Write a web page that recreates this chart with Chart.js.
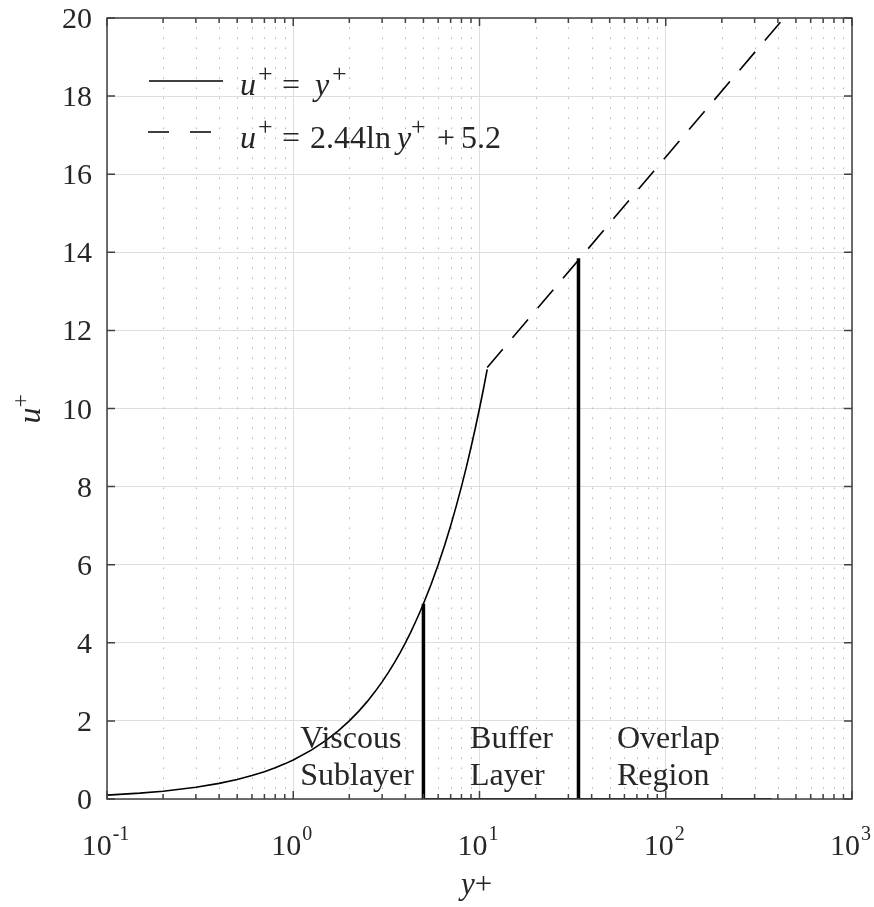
<!DOCTYPE html>
<html>
<head>
<meta charset="utf-8">
<script src="https://cdn.jsdelivr.net/npm/chart.js@4.4.1/dist/chart.umd.min.js"></script>
<style>
  html, body { margin: 0; padding: 0; background: #fff; }
</style>
</head>
<body>
<canvas id="myChart" width="874" height="907"></canvas>
<script>
// viscous sublayer, u+ = y+
var viscousX = [0.1, 0.15, 0.2, 0.3, 0.4, 0.5, 0.6, 0.7, 0.8, 0.9, 1, 1.25, 1.5, 1.75, 2, 2.25, 2.5, 2.75, 3, 3.25, 3.5, 3.75, 4, 4.25, 4.5, 4.75, 5, 5.5, 6, 6.5, 7, 7.5, 8, 8.5, 9, 9.5, 10, 10.5, 11];
var viscousU = [0.1, 0.15, 0.2, 0.3, 0.4, 0.5, 0.6, 0.7, 0.8, 0.9, 1, 1.25, 1.5, 1.75, 2, 2.25, 2.5, 2.75, 3, 3.25, 3.5, 3.75, 4, 4.25, 4.5, 4.75, 5, 5.5, 6, 6.5, 7, 7.5, 8, 8.5, 9, 9.5, 10, 10.5, 11];
// log law, u+ = 2.44 ln y+ + 5.2
var logLawX = [11, 34, 100, 431];
var logLawU = [11.05, 13.8, 16.44, 20];
// region boundaries
var bound1X = [5, 5];
var bound1U = [0, 5];
var bound2X = [34, 34];
var bound2U = [0, 13.85];
var zeroX = [5, 370];
var zeroU = [0, 0];

var xMajorTicks = [0.1, 1, 10, 100, 1000];
var xExponents = ['-1', '0', '1', '2', '3'];
var xMinorSteps = [2, 3, 4, 5, 6, 7, 8, 9];
var yTicks = [0, 2, 4, 6, 8, 10, 12, 14, 16, 18, 20];
var regionNames = [['Viscous', 'Sublayer'], ['Buffer', 'Layer'], ['Overlap', 'Region']];

var xMinorTicks = [];
for (var d = 0; d < xMajorTicks.length - 1; d++) {
  xMinorSteps.forEach(function (m) { xMinorTicks.push(xMajorTicks[d] * m); });
}
var xAllTicks = xMajorTicks.concat(xMinorTicks).sort(function (a, b) { return a - b; });

function toPoints(xs, ys) {
  return xs.map(function (x, i) { return { x: x, y: ys[i] }; });
}
function isMajor(v) {
  return xMajorTicks.some(function (m) { return Math.abs(Math.log10(v) - Math.log10(m)) < 1e-6; });
}

var SERIF = '"Liberation Serif", "Times New Roman", serif';
var TXT = '#262626';

// draws a row of text pieces: [text, x, style, sup]
function drawPieces(c, pieces, baseline, size) {
  pieces.forEach(function (p) {
    var sup = p[3];
    var fs = sup ? 26 : size;
    c.font = (p[2] === 'i' ? 'italic ' : '') + fs + 'px ' + SERIF;
    c.fillText(p[0], p[1], sup ? baseline - 13 : baseline);
  });
}

var matlabAxes = {
  id: 'matlabAxes',
  beforeDatasetsDraw: function (chart) {
    var c = chart.ctx, a = chart.chartArea, xs = chart.scales.x;
    c.save();
    c.strokeStyle = '#b4b4b4';
    c.lineWidth = 1;
    c.setLineDash([1.5, 8.5]);
    xMinorTicks.forEach(function (v) {
      var px = Math.round(xs.getPixelForValue(v)) + 0.5;
      c.beginPath();
      c.moveTo(px, a.bottom);
      c.lineTo(px, a.top);
      c.stroke();
    });
    c.restore();
  },
  afterDraw: function (chart) {
    var c = chart.ctx, a = chart.chartArea, xs = chart.scales.x, ys = chart.scales.y;
    c.save();
    // ticks pointing inward
    c.strokeStyle = '#404040';
    c.lineWidth = 1.5;
    xAllTicks.forEach(function (v) {
      var px = xs.getPixelForValue(v);
      var len = isMajor(v) ? 8 : 5;
      c.beginPath();
      c.moveTo(px, a.bottom); c.lineTo(px, a.bottom - len);
      c.moveTo(px, a.top); c.lineTo(px, a.top + len);
      c.stroke();
    });
    yTicks.forEach(function (v) {
      var py = ys.getPixelForValue(v);
      c.beginPath();
      c.moveTo(a.left, py); c.lineTo(a.left + 8, py);
      c.moveTo(a.right, py); c.lineTo(a.right - 8, py);
      c.stroke();
    });
    c.strokeRect(a.left, a.top, a.right - a.left, a.bottom - a.top);

    // tick labels
    c.fillStyle = TXT;
    c.textBaseline = 'alphabetic';
    c.textAlign = 'right';
    c.font = '30px ' + SERIF;
    yTicks.forEach(function (v) {
      c.fillText(String(v), a.left - 15, ys.getPixelForValue(v) + 10);
    });
    c.textAlign = 'left';
    xMajorTicks.forEach(function (v, i) {
      var px = xs.getPixelForValue(v);
      c.font = '30px ' + SERIF;
      var wb = c.measureText('10').width;
      c.font = '20px ' + SERIF;
      var we = c.measureText(xExponents[i]).width;
      var x0 = px - (wb + we) / 2 - 2;
      c.font = '30px ' + SERIF;
      c.fillText('10', x0, a.bottom + 56);
      c.font = '20px ' + SERIF;
      c.fillText(xExponents[i], x0 + wb + 1, a.bottom + 41);
    });

    // axis titles
    c.font = 'italic 31px ' + SERIF;
    var wy = c.measureText('y').width;
    c.font = '31px ' + SERIF;
    var wp = c.measureText('+').width;
    var tx = (a.left + a.right) / 2 - 3 - (wy + wp) / 2;
    c.font = 'italic 31px ' + SERIF;
    c.fillText('y', tx, a.bottom + 95);
    c.font = '31px ' + SERIF;
    c.fillText('+', tx + wy, a.bottom + 95);

    c.save();
    c.translate(40, (a.top + a.bottom) / 2 + 15);
    c.rotate(-Math.PI / 2);
    c.font = 'italic 32px ' + SERIF;
    c.fillText('u', 0, 0);
    var wu = c.measureText('u').width;
    c.font = '24px ' + SERIF;
    c.fillText('+', wu, -12);
    c.restore();

    // legend
    c.strokeStyle = '#000';
    c.lineWidth = 1.5;
    c.beginPath();
    c.moveTo(149, 81); c.lineTo(223, 81);
    c.stroke();
    c.setLineDash([21, 21]);
    c.beginPath();
    c.moveTo(148, 132); c.lineTo(213, 132);
    c.stroke();
    c.setLineDash([]);
    c.fillStyle = TXT;
    drawPieces(c, [['u', 240, 'i'], ['+', 258, '', true], ['=', 282, ''], ['y', 315, 'i'], ['+', 332, '', true]], 95, 32);
    drawPieces(c, [['u', 240, 'i'], ['+', 258, '', true], ['=', 282, ''], ['2.44ln', 310, ''], ['y', 397, 'i'], ['+', 411, '', true], ['+', 437, ''], ['5.2', 461, '']], 148, 32);

    // region labels
    c.font = '32px ' + SERIF;
    var regionX = [1.09, 8.9, 54.7];
    regionNames.forEach(function (lines, i) {
      var px = xs.getPixelForValue(regionX[i]);
      c.fillText(lines[0], px, a.bottom - 51);
      c.fillText(lines[1], px, a.bottom - 14);
    });
    c.restore();
  }
};

var ctx = document.getElementById('myChart').getContext('2d');
var chart = new Chart(ctx, {
  type: 'scatter',
  data: {
    datasets: [{
      label: 'u+ = y+',
      data: toPoints(viscousX, viscousU),
      showLine: true, borderColor: '#000', borderWidth: 1.6, pointRadius: 0
    }, {
      label: 'u+ = 2.44ln y+ + 5.2',
      data: toPoints(logLawX, logLawU),
      showLine: true, borderColor: '#000', borderWidth: 1.6, borderDash: [24, 15], pointRadius: 0
    }, {
      label: 'sublayer edge',
      data: toPoints(bound1X, bound1U),
      showLine: true, borderColor: '#000', borderWidth: 3.5, pointRadius: 0
    }, {
      label: 'buffer edge',
      data: toPoints(bound2X, bound2U),
      showLine: true, borderColor: '#000', borderWidth: 3.5, pointRadius: 0
    }, {
      label: 'zero',
      data: toPoints(zeroX, zeroU),
      showLine: true, borderColor: '#000', borderWidth: 2, pointRadius: 0
    }]
  },
  options: {
    responsive: false,
    animation: false,
    layout: { padding: { left: 107, right: 22, top: 18, bottom: 108 } },
    plugins: { legend: { display: false }, tooltip: { enabled: false } },
    scales: {
      x: {
        type: 'logarithmic', min: 0.1, max: 1000,
        afterBuildTicks: function (scale) {
          scale.ticks = xAllTicks.map(function (v) { return { value: v }; });
        },
        ticks: { display: false },
        border: { display: false },
        grid: {
          drawTicks: false, lineWidth: 1,
          color: function (c) { return c.tick && isMajor(c.tick.value) ? '#dedede' : 'rgba(0,0,0,0)'; }
        }
      },
      y: {
        type: 'linear', min: 0, max: 20,
        ticks: { display: false, stepSize: 2 },
        border: { display: false },
        grid: { drawTicks: false, lineWidth: 1, color: '#dedede' }
      }
    }
  },
  plugins: [matlabAxes]
});
</script>
</body>
</html>
